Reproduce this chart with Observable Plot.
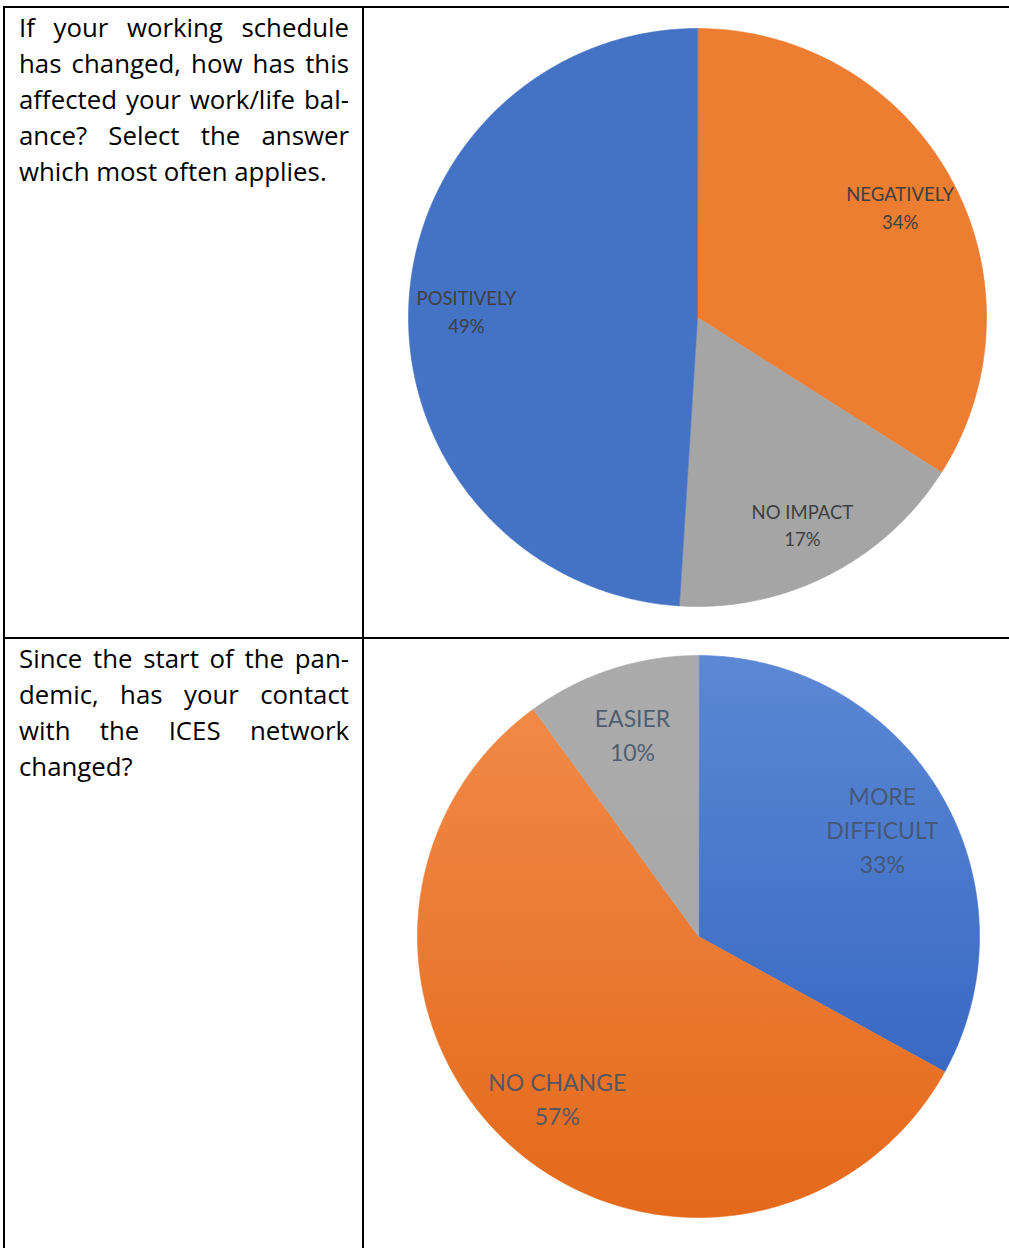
<!DOCTYPE html>
<html>
<head>
<meta charset="utf-8">
<script src="https://cdn.jsdelivr.net/npm/d3@7"></script>
<script src="https://cdn.jsdelivr.net/npm/@observablehq/plot@0.6"></script>
<style>
  html, body { margin: 0; padding: 0; background: #fff; }
  body { width: 1009px; height: 1248px; position: relative; overflow: hidden; font-family: Lato, "Open Sans", sans-serif; }
  .rule { position: absolute; background: #000; }
  .q { position: absolute; left: 19px; width: 330px; font-family: "Open Sans", Lato, sans-serif; font-size: 25.8px; line-height: 36px; color: #000; }
  .q div { text-align: justify; text-align-last: justify; white-space: nowrap; }
  .q div.last { text-align-last: left; }
  .pie { position: absolute; }
  .pie svg { overflow: visible; }
</style>
</head>
<body>
<div class="rule" style="left:3px; top:6px; width:1006px; height:2px;"></div>
<div class="rule" style="left:3px; top:6px; width:2px; height:1242px;"></div>
<div class="rule" style="left:362px; top:6px; width:2px; height:1242px;"></div>
<div class="rule" style="left:3px; top:637px; width:1006px; height:2px;"></div>
<div class="q" id="q1" style="top:9px;"></div>
<div class="q" id="q2" style="top:640px;"></div>
<div class="pie" id="pie1" style="left:408px; top:28px;"></div>
<div class="pie" id="pie2" style="left:417px; top:655px;"></div>
<script>
// ---- data ----
const question1 = ["If your working schedule", "has changed, how has this", "affected your work/life bal-", "ance?  Select the answer", "which most often applies."];
const question2 = ["Since the start of the pan-", "demic, has your contact", "with the ICES network", "changed?"];

const pie1Categories = ["NEGATIVELY", "NO IMPACT", "POSITIVELY"];
const pie1Values = [34, 17, 49];
const pie1Colors = ["#ED7D31", "#A5A5A5", "#4472C4"];

const pie2Categories = ["MORE DIFFICULT", "NO CHANGE", "EASIER"];
const pie2Labels = ["MORE\nDIFFICULT", "NO CHANGE", "EASIER"];
const pie2Values = [33, 57, 10];
const pie2GradTop = ["#5C88D4", "#F28C4C", "#ABABAB"];
const pie2GradBottom = ["#2C5EBE", "#E4691A", "#A6A6A6"];

// ---- question text ----
function writeQ(id, lines) {
  const el = document.getElementById(id);
  lines.forEach((t, i) => {
    const d = document.createElement("div");
    d.textContent = t;
    if (i === lines.length - 1) d.className = "last";
    el.appendChild(d);
  });
}
writeQ("q1", question1);
writeQ("q2", question2);

// ---- pies ----
function makePie({id, names, labels, values, colors, radius, labelR, fontSize, lineHeight, textFill, textOpacity, gradients}) {
  const arcs = d3.pie().sort(null).value(d => d)(values);
  const pts = [];
  const lab = [];
  arcs.forEach((a, i) => {
    const n = Math.max(4, Math.ceil((a.endAngle - a.startAngle) / (2 * Math.PI) * 720));
    pts.push({k: names[i], x: 0, y: 0});
    for (let j = 0; j <= n; j++) {
      const t = a.startAngle + (a.endAngle - a.startAngle) * j / n;
      pts.push({k: names[i], x: Math.sin(t), y: Math.cos(t)});
    }
    const m = (a.startAngle + a.endAngle) / 2;
    lab.push({x: labelR * Math.sin(m), y: labelR * Math.cos(m), text: labels[i] + "\n" + values[i] + "%"});
  });
  const size = 2 * radius;
  const range = gradients ? names.map((_, i) => `url(#${id}-g${i})`) : colors;
  const plot = Plot.plot({
    width: size, height: size,
    margin: 0,
    x: {domain: [-1, 1], axis: null},
    y: {domain: [-1, 1], axis: null},
    color: {domain: names, range},
    style: {overflow: "visible", background: "transparent"},
    marks: [
      Plot.line(pts, {x: "x", y: "y", z: "k", fill: "k", stroke: "k", strokeWidth: 0.6, curve: "linear-closed"}),
      Plot.text(lab, {x: "x", y: "y", text: "text", fontSize, lineHeight, fill: textFill, fillOpacity: textOpacity, fontFamily: "Lato, 'Open Sans', sans-serif", textAnchor: "middle"})
    ]
  });
  if (gradients) {
    const defs = d3.select(plot).insert("defs", ":first-child");
    names.forEach((_, i) => {
      const g = defs.append("linearGradient").attr("id", `${id}-g${i}`)
        .attr("gradientUnits", "userSpaceOnUse").attr("x1", 0).attr("y1", 0).attr("x2", 0).attr("y2", size);
      g.append("stop").attr("offset", "0%").attr("stop-color", gradients[0][i]);
      g.append("stop").attr("offset", "100%").attr("stop-color", gradients[1][i]);
    });
  }
  document.getElementById(id).appendChild(plot);
}

makePie({id: "pie1", names: pie1Categories, labels: pie1Categories, values: pie1Values, colors: pie1Colors,
  radius: 289, labelR: 0.8, fontSize: 18.5, lineHeight: 1.5, textFill: "#404040", textOpacity: 1});
makePie({id: "pie2", names: pie2Categories, labels: pie2Labels, values: pie2Values, colors: pie2GradTop,
  radius: 281, labelR: 0.76, fontSize: 23, lineHeight: 1.48, textFill: "#44546A", textOpacity: 0.9,
  gradients: [pie2GradTop, pie2GradBottom]});
</script>
</body>
</html>
